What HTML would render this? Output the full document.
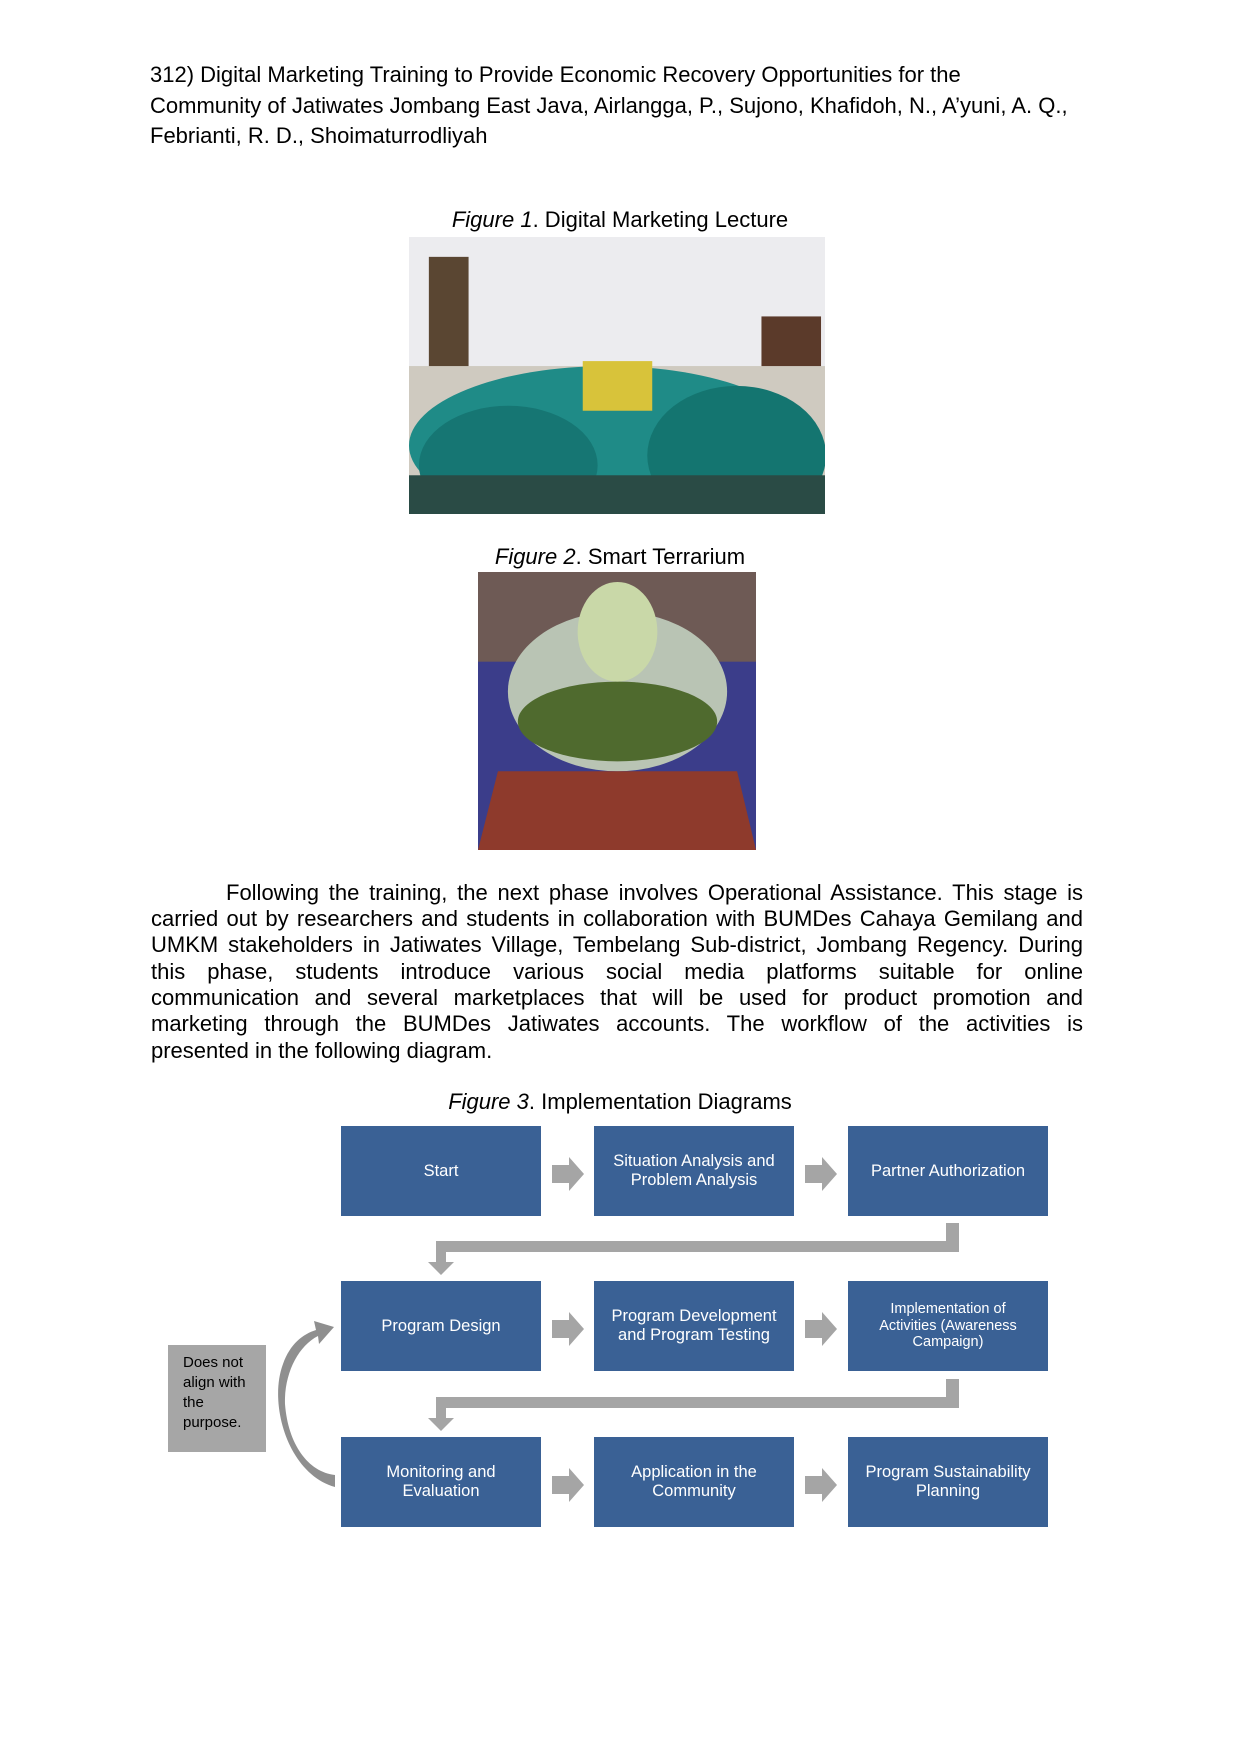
<!DOCTYPE html>
<html><head><meta charset="utf-8"><style>
body{margin:0;background:#fff;}
#p{position:relative;width:1240px;height:1754px;overflow:hidden;font-family:"Liberation Sans",sans-serif;color:#000;}
.hd{position:absolute;left:150px;top:60px;font-family:"Liberation Sans Narrow","Liberation Sans",sans-serif;font-size:22px;line-height:30.5px;white-space:nowrap;}
.cap{position:absolute;left:0;width:1240px;text-align:center;font-size:22px;}
.pl{position:absolute;left:151px;width:932px;font-size:22px;text-align:justify;text-align-last:justify;white-space:nowrap;}
.b{position:absolute;width:200px;height:90px;background:#3a6195;color:#fff;display:flex;align-items:center;justify-content:center;text-align:center;font-size:16.5px;line-height:19px;}
</style></head><body><div id="p">
<div class="hd">312) Digital Marketing Training to Provide Economic Recovery Opportunities for the<br>Community of Jatiwates Jombang East Java, Airlangga, P., Sujono, Khafidoh, N., A’yuni, A. Q.,<br>Febrianti, R. D., Shoimaturrodliyah</div>
<div class="cap" style="top:207px"><i>Figure 1</i>. Digital Marketing Lecture</div>
<svg style="position:absolute;left:409px;top:237px" width="416" height="277" viewBox="0 0 419 279" preserveAspectRatio="none">
<rect width="419" height="279" fill="#e4e4e6"/>
<rect x="0" y="0" width="419" height="130" fill="#ececef"/>
<rect x="20" y="20" width="40" height="200" fill="#5a4632"/>
<rect x="355" y="80" width="60" height="110" fill="#5b3a2a"/>
<rect x="0" y="130" width="419" height="149" fill="#cfcac0"/>
<ellipse cx="200" cy="210" rx="200" ry="80" fill="#1f8b87"/>
<ellipse cx="100" cy="230" rx="90" ry="60" fill="#167673"/>
<ellipse cx="330" cy="220" rx="90" ry="70" fill="#147570"/>
<rect x="175" y="125" width="70" height="50" fill="#d8c33a"/>
<rect x="0" y="240" width="419" height="39" fill="#2a4b45"/>
</svg>
<div class="cap" style="top:544px"><i>Figure 2</i>. Smart Terrarium</div>
<svg style="position:absolute;left:478px;top:572px" width="278" height="278" viewBox="0 0 279 279">
<rect width="279" height="279" fill="#3b3d8a"/>
<rect width="279" height="90" fill="#6e5a55"/>
<ellipse cx="140" cy="120" rx="110" ry="80" fill="#b9c4b4"/>
<ellipse cx="140" cy="150" rx="100" ry="40" fill="#4f6a2e"/>
<ellipse cx="140" cy="60" rx="40" ry="50" fill="#c9d8a8"/>
<polygon points="20,200 260,200 279,279 0,279" fill="#8e3a2c"/>
</svg>
<div class="pl" style="top:880px;left:226px;width:857px">Following the training, the next phase involves Operational Assistance. This stage is</div>
<div class="pl" style="top:906px">carried out by researchers and students in collaboration with BUMDes Cahaya Gemilang and</div>
<div class="pl" style="top:932px">UMKM stakeholders in Jatiwates Village, Tembelang Sub-district, Jombang Regency. During</div>
<div class="pl" style="top:959px">this phase, students introduce various social media platforms suitable for online</div>
<div class="pl" style="top:985px">communication and several marketplaces that will be used for product promotion and</div>
<div class="pl" style="top:1011px">marketing through the BUMDes Jatiwates accounts. The workflow of the activities is</div>
<div class="pl" style="top:1038px;text-align:left;text-align-last:left">presented in the following diagram.</div>
<div class="cap" style="top:1089px"><i>Figure 3</i>. Implementation Diagrams</div>
<div style="position:absolute;left:-2px;top:-6px;width:1240px;height:1754px">
<div class="b" style="left:343px;top:1132px">Start</div>
<div class="b" style="left:596px;top:1132px">Situation Analysis and<br>Problem Analysis</div>
<div class="b" style="left:850px;top:1132px">Partner Authorization</div>
<div class="b" style="left:343px;top:1287px">Program Design</div>
<div class="b" style="left:596px;top:1287px">Program Development<br>and Program Testing</div>
<div class="b" style="left:850px;top:1287px;font-size:14.5px;line-height:16.5px">Implementation of<br>Activities (Awareness<br>Campaign)</div>
<div class="b" style="left:343px;top:1443px">Monitoring and<br>Evaluation</div>
<div class="b" style="left:596px;top:1443px">Application in the<br>Community</div>
<div class="b" style="left:850px;top:1443px">Program Sustainability<br>Planning</div>
<div style="position:absolute;left:170px;top:1351px;width:98px;height:107px;background:#a6a6a6;font-size:15px;line-height:20px;padding:8px 0 0 15px;box-sizing:border-box">Does not<br>align with<br>the<br>purpose.</div>
<svg style="position:absolute;left:0;top:0" width="1240" height="1754">
<g fill="#a5a5a5">
<polygon points="554,1171 571,1171 571,1163 586,1180 571,1197 571,1189 554,1189"/>
<polygon points="807,1171 824,1171 824,1163 839,1180 824,1197 824,1189 807,1189"/>
<polygon points="554,1326 571,1326 571,1318 586,1335 571,1352 571,1344 554,1344"/>
<polygon points="807,1326 824,1326 824,1318 839,1335 824,1352 824,1344 807,1344"/>
<polygon points="554,1482 571,1482 571,1474 586,1491 571,1508 571,1500 554,1500"/>
<polygon points="807,1482 824,1482 824,1474 839,1491 824,1508 824,1500 807,1500"/>
<polygon points="948,1229 961,1229 961,1258 448,1258 448,1268 456,1268 443,1281 430,1268 438,1268 438,1247 948,1247"/>
<polygon points="948,1385 961,1385 961,1414 448,1414 448,1424 456,1424 443,1437 430,1424 438,1424 438,1403 948,1403"/>
</g>
<path d="M337,1493 C290,1480 270,1410 285,1370 C292,1350 305,1340 318,1336 L316,1327 L336,1333 L321,1350 L320,1342 C300,1352 286,1380 287,1410 C290,1450 310,1478 337,1481 Z" fill="#8f8f8f"/>
</svg>
</div>
</div></body></html>
